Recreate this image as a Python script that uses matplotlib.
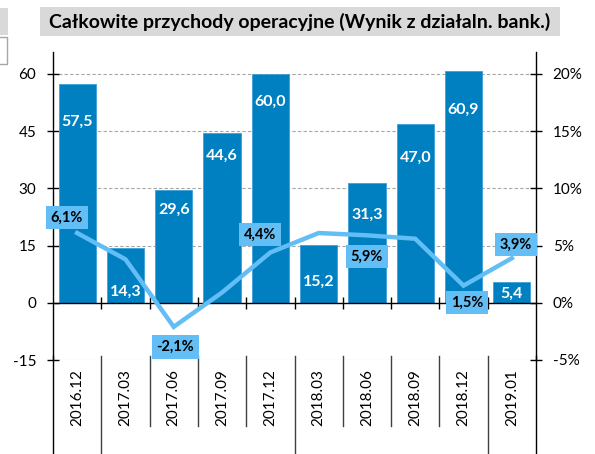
import matplotlib
matplotlib.use("Agg")
import matplotlib.pyplot as plt
import matplotlib.transforms as mtransforms
from matplotlib.patches import Rectangle
import numpy as np

plt.rcParams['font.family'] = ['Lato', 'DejaVu Sans']

# ---- data ----
categories = ["2016.12", "2017.03", "2017.06", "2017.09", "2017.12",
              "2018.03", "2018.06", "2018.09", "2018.12", "2019.01"]
revenue = [57.5, 14.3, 29.6, 44.6, 60.0, 15.2, 31.3, 47.0, 60.9, 5.4]
growth_pct = [6.1, 3.8, -2.1, 0.9, 4.4, 6.1, 5.9, 5.6, 1.5, 3.9]
# which growth points carry a label (None = no label)
growth_labels = ["6,1%", None, "-2,1%", None, "4,4%", None, "5,9%", None, "1,5%", "3,9%"]
left_ticks = [-15, 0, 15, 30, 45, 60]
right_ticks = [-5, 0, 5, 10, 15, 20]
title = "Całkowite przychody operacyjne (Wynik z działaln. bank.)"

# ---- layout / style (not data) ----
bar_label_y = [47.5, 2.9, 24.4, 38.5, 52.8, 5.5, 23.1, 38.0, 50.6, 2.4]
growth_label_y = [7.45, None, -3.85, None, 5.95, None, 4.03, None, 0.0, 5.09]
growth_label_dx = [-0.21, 0, 0.03, 0, -0.21, 0, 0.0, 0, 0.07, 0.09]
bar_color = "#0080C0"
line_color = "#63BEF5"
W, H = 595, 454

fig = plt.figure(figsize=(W / 100, H / 100), dpi=100)
ax_left, ax_right_px, ax_top_px, ax_bot_px = 53, 536, 52, 360
ax = fig.add_axes([ax_left / W, 1 - ax_bot_px / H,
                   (ax_right_px - ax_left) / W, (ax_bot_px - ax_top_px) / H])
ax2 = ax.twinx()

ymin = -15
px_per_unit = (360 - 74) / 75.0
ymax = ymin + (ax_bot_px - ax_top_px) / px_per_unit
ax.set_ylim(ymin, ymax)
ax2.set_ylim(ymin / 3.0, ymax / 3.0)
x = np.arange(len(categories))
ax.set_xlim(-0.5, len(categories) - 0.5)

# gridlines
for t in left_ticks:
    if t != 0:
        ax.axhline(t, color="#A6A6A6", lw=0.8, ls=(0, (3, 2)), zorder=0)

ax.bar(x, revenue, width=0.77, color=bar_color, edgecolor="#3FA0D8", lw=0.6, zorder=2)
ax.axhline(0, color="black", lw=1.0, zorder=3)
bounds = np.arange(len(categories) - 1) + 0.5
ax.plot(bounds, np.zeros_like(bounds), ls="none", marker="|", ms=9,
        mew=1.0, color="black", zorder=3)

for xi, yl, v in zip(x, bar_label_y, revenue):
    ax.text(xi, yl, f"{v:.1f}".replace(".", ","), color="white",
            fontsize=11.5, fontweight="bold", ha="center", va="center", zorder=4)

ax2.plot(x, growth_pct, color=line_color, lw=3.2, zorder=5, solid_joinstyle="miter")
for xi, lab, yl, dx in zip(x, growth_labels, growth_label_y, growth_label_dx):
    if lab is None:
        continue
    ax2.text(xi + dx, yl, lab, fontsize=10.5, fontweight="bold", color="black",
             ha="center", va="center", zorder=6,
             bbox=dict(boxstyle="square,pad=0.32", fc=line_color, ec="none"))

# axes styling
for a in (ax, ax2):
    a.spines["top"].set_visible(False)
    a.spines["bottom"].set_visible(False)
    a.set_xticks([])
ax.spines["right"].set_visible(False)
ax.spines["left"].set_linewidth(1.0)
ax2.spines["left"].set_visible(False)
ax2.spines["right"].set_linewidth(1.0)

ax.set_yticks(left_ticks)
ax.set_yticklabels([str(t) for t in left_ticks], fontsize=11)
ax.tick_params(axis="y", direction="inout", length=8, width=1.0, pad=8)
ax2.set_yticks(right_ticks)
ax2.set_yticklabels([f"{t}%" for t in right_ticks], fontsize=11)
ax2.tick_params(axis="y", direction="inout", length=8, width=1.0, pad=8)

# category axis area below the plot
trans = mtransforms.blended_transform_factory(ax.transData, fig.transFigure)
y_axis_bottom = 1 - ax_bot_px / H
y_short = 1 - 426 / H
long_bounds = {-0.5, 0.5, 4.5, 8.5, 9.5}
for b in np.arange(-0.5, len(categories), 1.0):
    yb = 0.0 if b in long_bounds else y_short
    ax.plot([b, b], [y_axis_bottom + 0.008, yb], color="black" if b in (-0.5, 9.5) else "#404040",
            lw=1.0, transform=trans, clip_on=False)
for xi, c in zip(x, categories):
    ax.text(xi, 1 - 398 / H, c, rotation=90, fontsize=11, ha="center", va="center",
            transform=trans)

# title box
fig.patches.append(Rectangle((40 / W, 1 - 36 / H), 520 / W, 29 / H,
                             transform=fig.transFigure, fc="#D9D9D9", ec="none", zorder=0))
fig.text(300 / W, 1 - 22 / H, title, fontsize=14, fontweight="bold",
         ha="center", va="center")
# partial elements at the left edge
fig.patches.append(Rectangle((0, 1 - 35 / H), 8 / W, 27 / H,
                             transform=fig.transFigure, fc="#D9D9D9", ec="none"))
fig.patches.append(Rectangle((-0.01, 1 - 64 / H), 7.5 / W + 0.01, 27 / H,
                             transform=fig.transFigure, fc="white", ec="#A6A6A6", lw=1.0))

fig.savefig("out.png", dpi=100)
